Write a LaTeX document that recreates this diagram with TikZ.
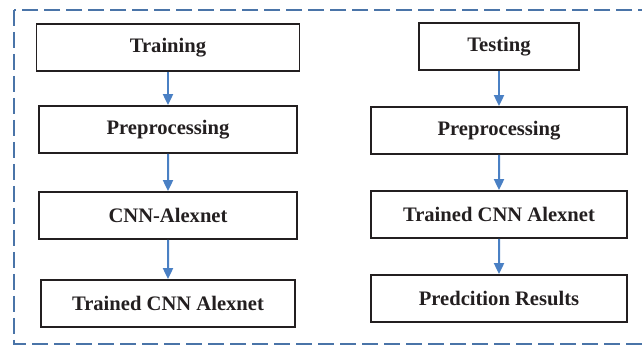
\documentclass[tikz,border=0pt]{standalone}
\usepackage{fontspec}
\setmainfont{Liberation Serif}
\usetikzlibrary{arrows.meta}

\definecolor{framblue}{HTML}{4A74A8}
\definecolor{arrblue}{HTML}{4A80C4}
\definecolor{inkgray}{HTML}{231F20}

\begin{document}
\begin{tikzpicture}[
        x=0.5pt, y=0.5pt,
        grow=south, % Дерево растет сверху вниз
        level distance=42pt, % Расстояние между уровнями
        edge from parent/.style = {draw, arrblue, line width=1pt, -{Triangle[length=5.5pt, width=5pt]}},
        cell/.style={rectangle, draw=inkgray, line width=0.9pt, text=inkgray, minimum width=129pt,
            minimum height=23.5pt, inner sep=0pt, font=\fontsize{10.3}{12}\selectfont\bfseries}, % Стиль узлов
    ]
    \clip (0,0) rectangle (642,346);

    % рамка
    \draw[framblue, line width=1pt, dash pattern=on 8pt off 3pt] (14,336) rectangle (660,2);

    % обучение
    \node[cell, minimum width=131.5pt] (train) at (168,298.5) {Training}
    child[level distance=41pt] {node[cell] (trainprep) {Preprocessing}
            child[level distance=43pt] {node[cell] (cnn) {CNN-Alexnet}
                    child[level distance=44pt] {node[cell, minimum width=127pt] (trained) {Trained CNN Alexnet}}}};

    % тестирование
    \node[cell, minimum width=80pt] (test) at (499,299.5) {Testing}
    child {node[cell, minimum width=128pt] (testprep) {Preprocessing}
            child {node[cell, minimum width=128pt] (testcnn) {Trained CNN Alexnet}
                    child {node[cell, minimum width=128pt] (result) {Predcition Results}}}};
\end{tikzpicture}
\end{document}
